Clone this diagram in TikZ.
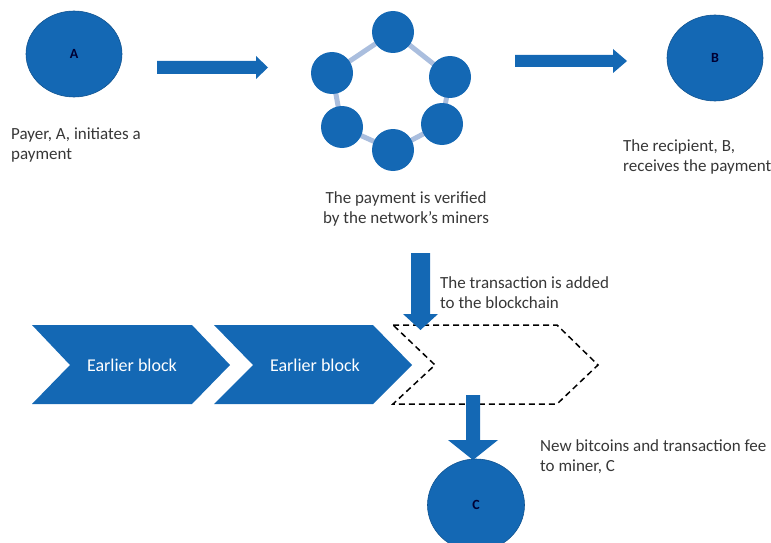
\documentclass[tikz,border=0pt]{standalone}
\usepackage{fontspec}
\setmainfont{Carlito}
\usetikzlibrary{shapes.geometric}
\definecolor{mblue}{RGB}{20,104,180}
\definecolor{mlink}{RGB}{170,190,222}
\definecolor{mtext}{RGB}{55,55,55}
\tikzset{
  bigcirc/.style={ellipse,fill=mblue,draw=mblue!80!black,line width=0.6pt,minimum width=96pt,minimum height=86pt,inner sep=0pt,font=\fontsize{14}{16}\selectfont\bfseries,text=black!80!blue},
  minercirc/.style={circle,fill=mblue,minimum size=42pt,inner sep=0pt},
  lbl/.style={font=\fontsize{17}{20}\selectfont,text=mtext,align=left,inner sep=0pt},
  blockarrow/.style={fill=mblue},
  chev/.style={fill=mblue},
  chevtxt/.style={font=\fontsize{18}{20}\selectfont,text=white},
  link/.style={draw=mlink,line width=5pt}
}
\begin{document}
\begin{tikzpicture}[x=1pt,y=-1pt]
\useasboundingbox (0,0) rectangle (771,543);
\clip (0,0) rectangle (771,543);
% nodes A and B
\node[bigcirc] (A) at (74,54) {A};
\node[bigcirc] (B) at (715,58) {B};
\node[lbl,anchor=base west] (tA) at (11,159) {Payer, A, initiates a\\payment};
\node[lbl,anchor=base west] (tB) at (623,171) {The recipient, B,\\receives the payment};
% miners network
\coordinate (m1) at (393,32);
\coordinate (m2) at (450,77);
\coordinate (m3) at (442,124);
\coordinate (m4) at (393,150);
\coordinate (m5) at (342,127);
\coordinate (m6) at (332,73);
\draw[link] (m1) -- (m2) -- (m3) -- (m4) -- (m5) -- (m6) -- cycle;
\foreach \i in {1,...,6} \node[minercirc] (n\i) at (m\i) {};
\node[lbl,align=center,anchor=base] (tN) at (406,223) {The payment is verified\\by the network’s miners};
% horizontal block arrows
\fill[blockarrow] (157,61) -- (256,61) -- (256,56) -- (268,67.5) -- (256,79) -- (256,74) -- (157,74) -- cycle;
\fill[blockarrow] (515,55) -- (613,55) -- (613,49) -- (627,61) -- (613,73) -- (613,67) -- (515,67) -- cycle;
% chevrons
\fill[chev] (32,325) -- (192,325) -- (230,365) -- (192,404) -- (32,404) -- (70,365) -- cycle;
\node[chevtxt] (c1) at (132,365) {Earlier block};
\fill[chev] (214,325) -- (373,325) -- (412,365) -- (373,404) -- (214,404) -- (253,365) -- cycle;
\node[chevtxt] (c2) at (315,365) {Earlier block};
\draw[line width=1.5pt,dash pattern=on 6pt off 4pt] (393,325) -- (557,325) -- (598,365) -- (557,404) -- (393,404) -- (435,365) -- cycle;
% vertical block arrows
\fill[blockarrow] (411,253) -- (430,253) -- (430,314) -- (438,314) -- (420.5,330) -- (403,314) -- (411,314) -- cycle;
\node[lbl,anchor=base west] (tT) at (440,308) {The transaction is added\\to the blockchain};
\fill[blockarrow] (466,395) -- (480,395) -- (480,440) -- (498,440) -- (473,460) -- (448,440) -- (466,440) -- cycle;
\node[lbl,anchor=base west] (tC) at (540,471) {New bitcoins and transaction fee\\to miner, C};
\node[bigcirc,minimum height=92pt,minimum width=97pt] (C) at (476,505) {C};
\end{tikzpicture}
\end{document}
